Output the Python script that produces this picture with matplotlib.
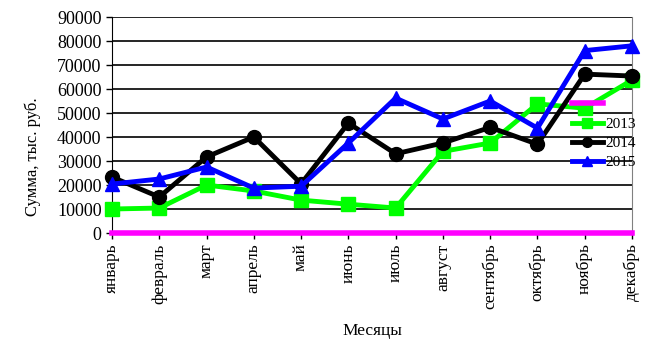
import numpy as np
import matplotlib.pyplot as plt

months = ["январь", "февраль", "март", "апрель", "май", "июнь",
          "июль", "август", "сентябрь", "октябрь", "ноябрь", "декабрь"]
y2013 = [10000, 10400, 20000, 17500, 13700, 12000, 10400, 34000, 37500, 53800, 52000, 63700]
y2014 = [23300, 15000, 31700, 40000, 20500, 45800, 33000, 37500, 44000, 37000, 66200, 65400]
y2015 = [20400, 22500, 27500, 18700, 19500, 37500, 56200, 47500, 55000, 43700, 76000, 78000]
y_zero = [0] * 12
yticks = list(range(0, 90001, 10000))

plt.rcParams["font.family"] = ["Liberation Serif", "DejaVu Serif"]

fig = plt.figure(figsize=(6.55, 3.58), dpi=100)
ax = fig.add_axes([112 / 655, 1 - 233 / 358, 520 / 655, 216 / 358])

x = np.arange(len(months))
for yv in yticks[1:]:
    ax.axhline(yv, color="black", lw=1.2, zorder=1)

l0, = ax.plot(x, y_zero, color="#ff00ff", lw=4, zorder=3, clip_on=False)
l1, = ax.plot(x, y2013, color="#00ff00", lw=3.5, marker="s", ms=10, zorder=4, clip_on=False)
l2, = ax.plot(x, y2014, color="black", lw=3.5, marker="o", ms=10, zorder=5, clip_on=False)
l3, = ax.plot(x, y2015, color="#0000ff", lw=3.5, marker="^", ms=10, zorder=6, clip_on=False)

ax.set_xlim(0, 11)
ax.set_ylim(0, 90000)
ax.set_yticks(yticks)
ax.set_yticklabels([str(v) for v in yticks], fontsize=13)
ax.set_xticks(x)
ax.set_xticklabels(months, rotation=90, fontsize=12.5)
ax.tick_params(axis="both", direction="out", length=4, width=1, colors="black")

ax.spines["top"].set_visible(False)
ax.spines["bottom"].set_visible(False)
ax.spines["right"].set_color("gray")
ax.spines["left"].set_color("black")

ax.set_ylabel("Сумма, тыс. руб.", fontsize=12)
ax.yaxis.set_label_coords(-0.136, 0.352)
ax.set_xlabel("Месяцы", fontsize=12.5, labelpad=10)

leg = ax.legend([l0, l1, l2, l3], [" ", "2013", "2014", "2015"],
                loc="upper left", bbox_to_anchor=(572 / 655, 1 - 98 / 358),
                bbox_transform=fig.transFigure, frameon=False, fontsize=11,
                handlelength=2.0, handletextpad=0.2, labelspacing=0.36,
                borderpad=0, borderaxespad=0)
for h in leg.legend_handles:
    h.set_markersize(7)

fig.savefig("out.png", dpi=100)
